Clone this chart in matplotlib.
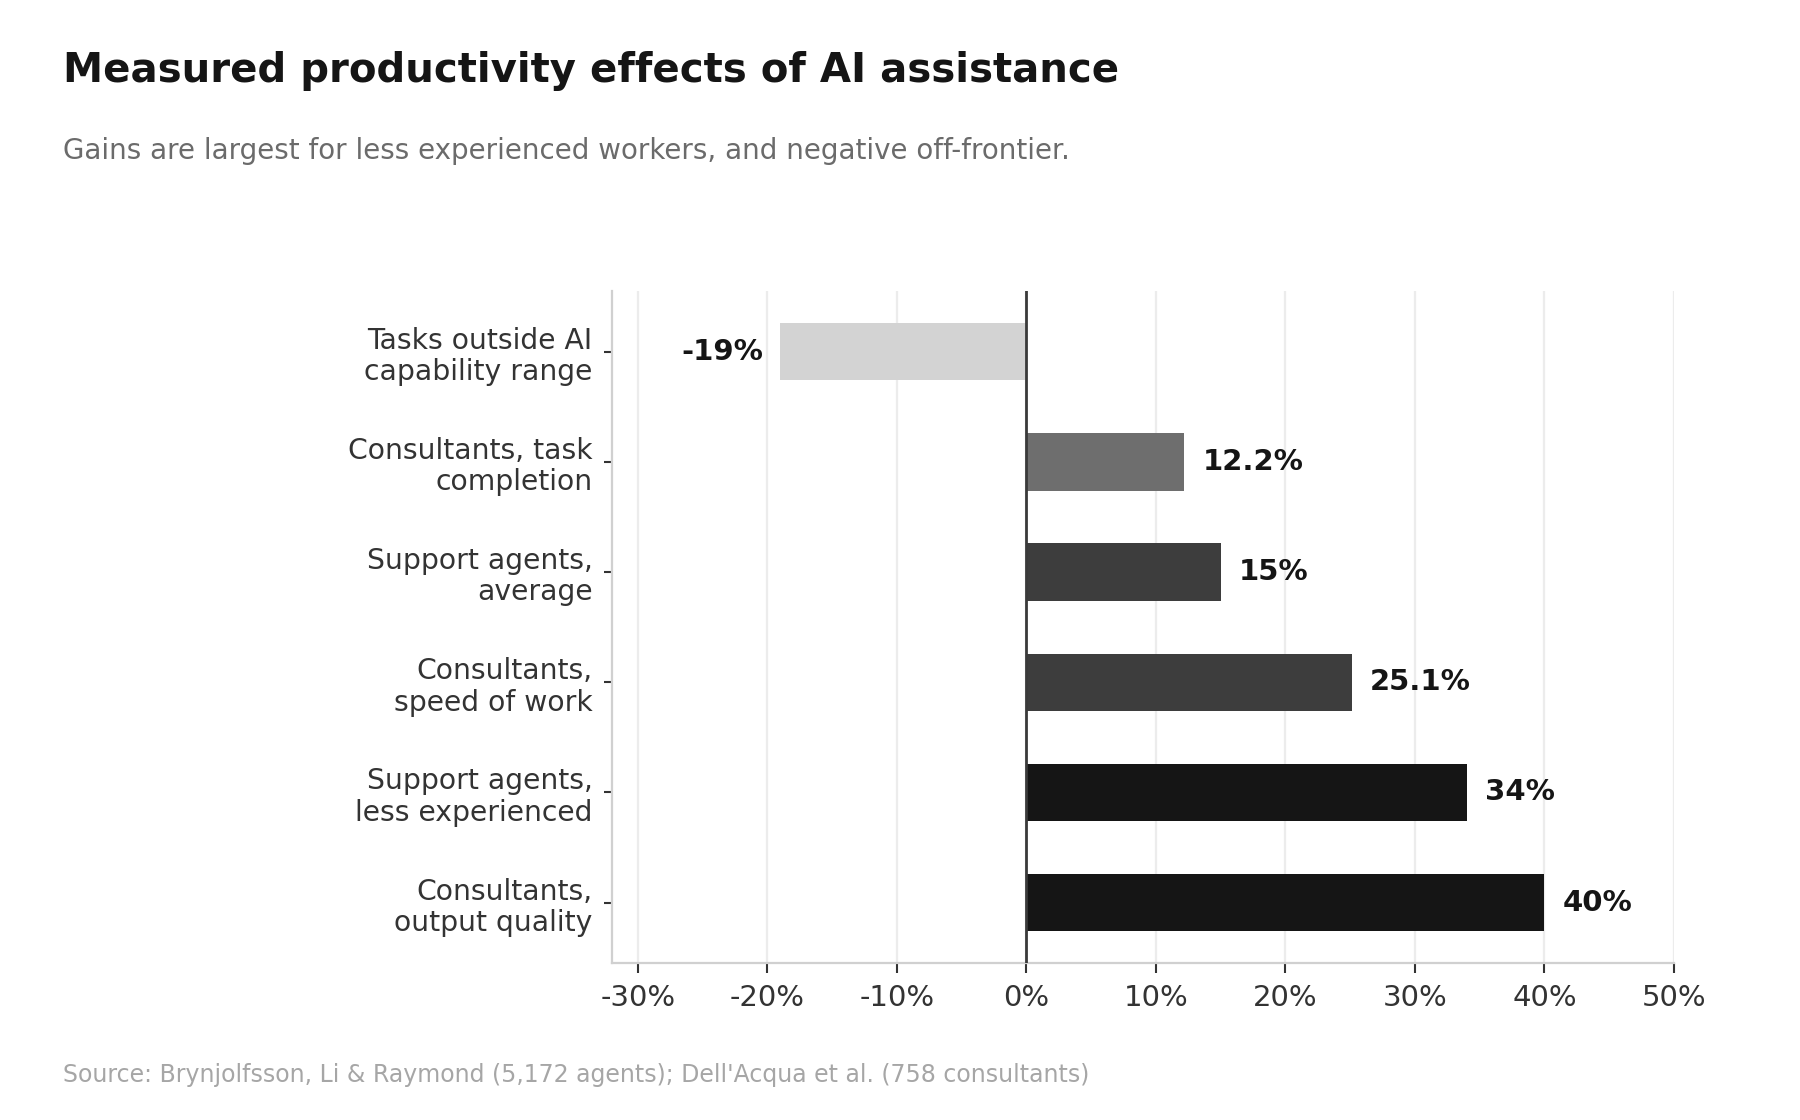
import matplotlib
matplotlib.use("Agg")
import matplotlib.pyplot as plt
from matplotlib.ticker import FuncFormatter

# data, top to bottom as drawn
categories = [
    "Tasks outside AI\ncapability range",
    "Consultants, task\ncompletion",
    "Support agents,\naverage",
    "Consultants,\nspeed of work",
    "Support agents,\nless experienced",
    "Consultants,\noutput quality",
]
effects = [-19, 12.2, 15, 25.1, 34, 40]
value_labels = ["-19%", "12.2%", "15%", "25.1%", "34%", "40%"]
bar_colors = ["#d3d3d3", "#6e6e6e", "#3d3d3d", "#3d3d3d", "#151515", "#151515"]
xticks = [-30, -20, -10, 0, 10, 20, 30, 40, 50]

plt.rcParams["font.family"] = ["DejaVu Sans"]

fig = plt.figure(figsize=(18, 11.2), dpi=100)
ax = fig.add_axes([0.340, 0.140, 0.590, 0.600])

ypos = list(range(len(categories)))
ax.barh(ypos, effects, height=0.52, color=bar_colors, zorder=3)
ax.axvline(0, color="#3a3a3a", lw=2, zorder=4)

for y, v, lab in zip(ypos, effects, value_labels):
    if v < 0:
        ax.annotate(lab, (v, y), xytext=(-12, 0), textcoords="offset points",
                    ha="right", va="center", fontsize=21, fontweight="bold",
                    color="#151515")
    else:
        ax.annotate(lab, (v, y), xytext=(13, 0), textcoords="offset points",
                    ha="left", va="center", fontsize=21, fontweight="bold",
                    color="#151515")

ax.set_xlim(-32, 50)
ax.set_ylim(5.55, -0.55)
ax.set_yticks(ypos)
ax.set_yticklabels(categories, fontsize=20.3, color="#333333", linespacing=1.15)
ax.set_xticks(xticks)
ax.xaxis.set_major_formatter(FuncFormatter(lambda v, p: "{0:.0f}%".format(v)))
ax.tick_params(axis="x", labelsize=21, labelcolor="#333333", color="#333333",
               length=7, width=1.5, pad=8)
ax.tick_params(axis="y", color="#333333", length=6, width=1.5, pad=8)

ax.grid(axis="x", color="#ececec", lw=1.6, zorder=0)
ax.set_axisbelow(True)
for s in ["top", "right"]:
    ax.spines[s].set_visible(False)
for s in ["left", "bottom"]:
    ax.spines[s].set_color("#d0d0d0")
    ax.spines[s].set_linewidth(1.6)

fig.text(0.035, 0.927, "Measured productivity effects of AI assistance",
         fontsize=29, fontweight="bold", color="#151515", va="baseline")
fig.text(0.035, 0.858, "Gains are largest for less experienced workers, and negative off-frontier.",
         fontsize=20, color="#6b6b6b", va="baseline")
fig.text(0.035, 0.034, "Source: Brynjolfsson, Li & Raymond (5,172 agents); Dell'Acqua et al. (758 consultants)",
         fontsize=17, color="#a6a6a6", va="baseline")

fig.savefig("out.png", dpi=100)
